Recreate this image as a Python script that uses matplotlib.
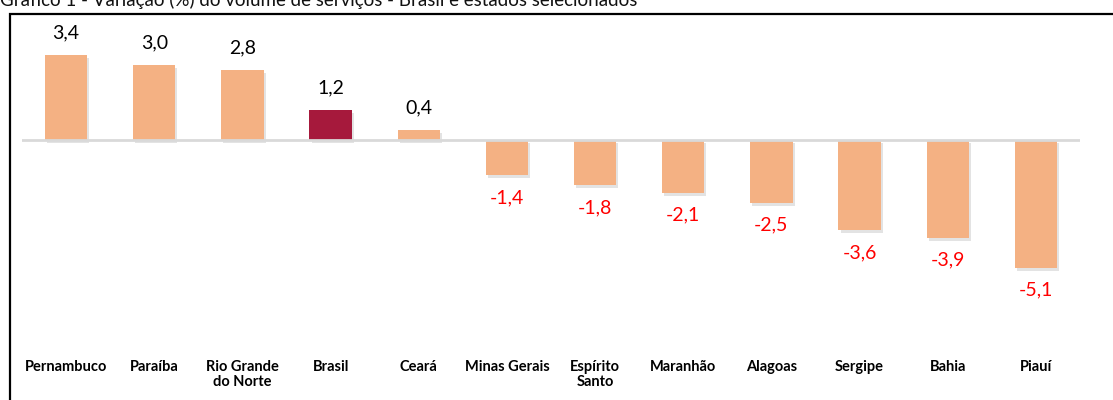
import matplotlib
matplotlib.use("Agg")
import matplotlib.pyplot as plt
import matplotlib.patheffects as pe
from matplotlib.patches import Rectangle

categories = ["Pernambuco", "Paraíba", "Rio Grande\ndo Norte", "Brasil", "Ceará",
              "Minas Gerais", "Espírito\nSanto", "Maranhão", "Alagoas", "Sergipe",
              "Bahia", "Piauí"]
values = [3.4, 3.0, 2.8, 1.2, 0.4, -1.4, -1.8, -2.1, -2.5, -3.6, -3.9, -5.1]
labels = ["3,4", "3,0", "2,8", "1,2", "0,4", "-1,4", "-1,8", "-2,1", "-2,5", "-3,6", "-3,9", "-5,1"]
highlight = "Brasil"

title = "Gráfico 1 - Variação (%) do volume de serviços - Brasil e estados selecionados"

plt.rcParams["font.family"] = ["Lato", "DejaVu Sans"]

W, H = 1113, 400
fig = plt.figure(figsize=(W / 100, H / 100), dpi=100)

# plot area in pixels: x 22..1080, zero line at y=140, 25 px per unit
left, right = 22, 1080
top_px, bot_px = 30, 340
ax = fig.add_axes([left / W, 1 - bot_px / H, (right - left) / W, (bot_px - top_px) / H])
ax.set_ylim(-(bot_px - 140) / 25, (140 - top_px) / 25)
ax.set_xlim(-0.5, len(categories) - 0.5)

colors = ["#A6193C" if c == highlight else "#F4B183" for c in categories]
x = list(range(len(categories)))
bars = ax.bar(x, values, width=0.48, color=colors, zorder=2)
for b in bars:
    b.set_path_effects([pe.SimplePatchShadow(offset=(1.5, -2.5), shadow_rgbFace="#808080", alpha=0.22),
                        pe.Normal()])

ax.axhline(0, color="#D9D9D9", lw=2, zorder=3)

for xi, v, lab in zip(x, values, labels):
    if v >= 0:
        ax.annotate(lab, (xi, v), xytext=(0, 10), textcoords="offset points",
                    ha="center", va="bottom", fontsize=14, color="black")
    else:
        ax.annotate(lab, (xi, v), xytext=(0, -10), textcoords="offset points",
                    ha="center", va="top", fontsize=14, color="#FF0000")

ax.set_xticks(x)
ax.set_xticklabels(categories, fontsize=10.5, fontweight="bold", linespacing=1.05, va="top")
ax.tick_params(axis="x", length=0, pad=0)
ax.set_yticks([])
for s in ax.spines.values():
    s.set_visible(False)
# move tick labels down to the bottom band
for t in ax.get_xticklabels():
    t.set_y(-0.065)

# outer frame, cut by the image edges
fig.patches.append(Rectangle((10 / W, -0.1), 1.2, 1 - 14 / H + 0.1, transform=fig.transFigure,
                             fill=False, ec="black", lw=1.6, zorder=0))

fig.text(0, 1 - 6 / H, title, fontsize=13.5, va="baseline", ha="left", color="#111111")

fig.savefig("out.png", dpi=100)
